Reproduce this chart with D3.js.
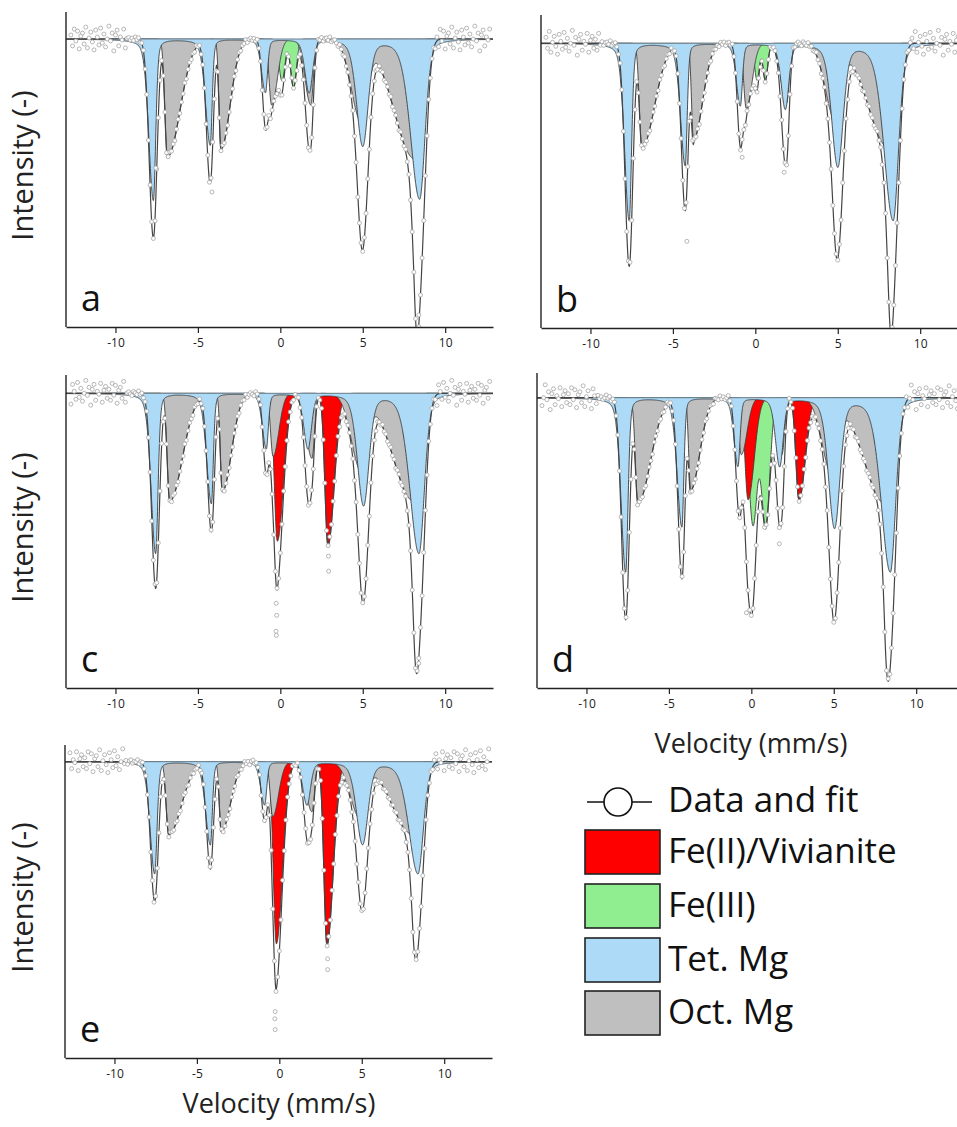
<!DOCTYPE html>
<html><head><meta charset="utf-8">
<script src="https://cdn.jsdelivr.net/npm/d3@7"></script>
<style>
body{margin:0;background:#fff;}
svg{display:block;font-family:"Open Sans",sans-serif;}
</style>
</head><body>
<svg id="chart" width="957" height="1127"></svg>
<script>
// ---------------- DATA ----------------
const panelIds = ["a", "b", "c", "d", "e"];
const velocityTicks = [-10, -5, 0, 5, 10];
const velocityDomain = [-13, 12.9];

// line half widths (mm/s) on the left / right side of each of the six sextet lines
const tetWL = [0.33, 0.34, 0.28, 0.30, 0.44, 0.65];
const tetWR = [0.17, 0.14, 0.15, 0.25, 0.39, 0.39];
const octWL = [0.18, 0.14, 0.18, 0.41, 0.70, 1.45];
const octWR = [0.90, 0.65, 0.41, 0.18, 0.45, 0.24];
const fitWL = [0.30, 0.28, 0.22, 0.25, 0.35, 0.35];
const fitWR = [0.26, 0.22, 0.20, 0.25, 0.40, 0.40];

// Tet. Mg sextet: line positions (mm/s) and depths (% absorption)
const tetPos = {
  a: [-7.70, -4.25, -0.90, 1.75, 5.00, 8.45],
  b: [-7.65, -4.25, -0.91, 1.82, 5.00, 8.36],
  c: [-7.56, -4.18, -0.85, 1.68, 5.05, 8.41],
  d: [-7.62, -4.21, -0.81, 1.72, 5.05, 8.43],
  e: [-7.56, -4.18, -0.89, 1.68, 5.05, 8.41]
};
const tetDepth = {
  a: [5.37, 3.53, 1.77, 1.77, 3.53, 5.33],
  b: [5.90, 4.07, 2.07, 2.17, 4.07, 5.90],
  c: [5.33, 3.67, 1.83, 1.83, 3.70, 5.33],
  d: [5.80, 4.30, 2.27, 2.27, 4.30, 5.80],
  e: [3.73, 2.77, 1.43, 1.43, 2.73, 3.73]
};
// Oct. Mg sextet
const octPos = {
  a: [-6.85, -3.60, -0.53, 1.85, 4.90, 8.15],
  b: [-6.88, -3.75, -0.55, 1.90, 4.85, 8.10],
  c: [-6.71, -3.52, -0.44, 1.92, 4.90, 8.10],
  d: [-6.88, -3.68, -0.61, 1.86, 4.90, 8.10],
  e: [-6.71, -3.52, -0.40, 1.98, 4.90, 8.10]
};
const octDepth = {
  a: [3.93, 3.67, 2.20, 2.20, 2.67, 4.00],
  b: [3.47, 3.20, 2.17, 2.00, 2.50, 3.50],
  c: [3.60, 3.27, 2.10, 2.17, 2.50, 3.60],
  d: [3.50, 3.07, 1.90, 1.90, 2.50, 3.53],
  e: [2.43, 2.33, 1.83, 1.67, 1.83, 2.43]
};
// Fe(II)/Vivianite doublet
const fe2Pos = { c: [-0.18, 2.89], d: [-0.20, 2.89], e: [-0.18, 2.89] };
const fe2Depth = { c: [4.93, 5.07], d: [3.40, 3.40], e: [6.07, 6.10] };
const fe2WL = 0.22, fe2WR = 0.44;
// Fe(III) doublet
const fe3Pos = { a: [0.10, 0.80], b: [0.10, 0.61], d: [0.10, 0.87] };
const fe3Depth = { a: [1.40, 1.60], b: [1.23, 1.23], d: [4.23, 4.23] };
const fe3W = { a: 0.21, b: 0.17, d: 0.30 };
// fitted envelope: absorption at the Tet. positions on top of the Oct. and doublet subspectra
const fitDepth = {
  a: [6.63, 4.80, 2.90, 1.60, 4.30, 7.73],
  b: [7.43, 5.57, 3.33, 2.13, 4.73, 7.53],
  c: [6.50, 4.60, 2.67, 1.90, 4.50, 7.60],
  d: [7.40, 6.03, 2.83, 2.57, 4.97, 8.00],
  e: [4.67, 3.57, 2.00, 1.50, 3.17, 5.47]
};

// measured channels and their small residuals around the fit (in units of the local noise)
const channelStart = -12.7, channelStep = 0.1, channelCount = 255;
const scatter = [0.4, -0.7, 1.0, -0.2, 0.8, -1.0, 0.3, 0.6, -0.5, 1.2, -0.9, 0.1, 0.7, -0.3, -1.1,
  0.9, 0.2, -0.6, 1.1, -0.4, 0.5, -0.8, 0.0, 1.3, -0.2, 0.6, -1.2, 0.4, 0.9, -0.7, 0.2, -0.1,
  1.0, -0.9, 0.3, 0.7, -0.5];
// isolated outlying data points [velocity, % absorption]
const outliers = {
  a: [[-7.55, 4.30], [-4.15, 5.10], [8.40, 9.20]],
  b: [[-4.15, 6.60], [1.75, 4.30], [-0.80, 3.80]],
  c: [[-0.25, 7.00], [-0.22, 7.40], [-0.26, 7.93], [-0.24, 8.07], [2.92, 5.43], [2.93, 5.93], [8.40, 9.00]],
  d: [[-0.30, 7.17], [1.70, 4.87]],
  e: [[-0.25, 8.33], [-0.27, 8.57], [-0.25, 8.93], [2.93, 6.57], [2.93, 6.93]]
};

const legendLabels = ["Fe(II)/Vivianite", "Fe(III)", "Tet. Mg", "Oct. Mg"];
const colors = { fe2: "#ff0000", fe3: "#90ee90", tet: "#acdaf7", oct: "#bfbfbf" };

// ---------------- LAYOUT ----------------
const layout = {
  a: { x0: 66, y0: 12, y1: 327, base: 39, yLabel: true },
  b: { x0: 541, y0: 15, y1: 328, base: 43.3 },
  c: { x0: 66, y0: 375, y1: 688, base: 393.3, yLabel: true },
  d: { x0: 537, y0: 373, y1: 688, base: 397.7, xLabel: true },
  e: { x0: 65, y0: 745, y1: 1058, base: 761.7, yLabel: true, xLabel: true }
};
const plotW = 427, pxPerPct = 30;

const svg = d3.select("#chart");
svg.append("rect").attr("width", 957).attr("height", 1127).attr("fill", "#fff");

// asymmetric pseudo-Voigt line shape
function lineShape(v, l) {
  const u = (v - l.c) / (v < l.c ? l.wL : l.wR);
  return l.d * (l.eta / (1 + u * u) + (1 - l.eta) * Math.exp(-Math.LN2 * u * u));
}
const grid = d3.range(velocityDomain[0], velocityDomain[1] + 0.001, 0.01);
const absorb = (lines, v) => d3.sum(lines, l => lineShape(v, l));

panelIds.forEach((id, pi) => {
  const L = layout[id];
  const x = d3.scaleLinear().domain(velocityDomain).range([L.x0, L.x0 + plotW]);
  const y = d3.scaleLinear()
    .domain([100 - (L.y1 - L.base) / pxPerPct, 100 + (L.base - L.y0) / pxPerPct])
    .range([L.y1, L.y0]);

  const comps = [];
  if (fe3Pos[id]) comps.push({ key: "fe3", lines: fe3Pos[id].map((c, i) => ({ c, d: fe3Depth[id][i], wL: fe3W[id], wR: fe3W[id], eta: 0 })) });
  if (fe2Pos[id]) comps.push({ key: "fe2", lines: fe2Pos[id].map((c, i) => ({ c, d: fe2Depth[id][i], wL: fe2WL, wR: fe2WR, eta: 0 })) });
  comps.push({ key: "oct", lines: octPos[id].map((c, i) => ({ c, d: octDepth[id][i], wL: octWL[i], wR: octWR[i], eta: 0 })) });
  comps.push({ key: "tet", lines: tetPos[id].map((c, i) => ({ c, d: tetDepth[id][i], wL: tetWL[i], wR: tetWR[i], eta: 0.3 })) });

  const fitLines = comps.filter(c => c.key !== "tet").flatMap(c => c.lines)
    .concat(tetPos[id].map((c, i) => ({ c, d: fitDepth[id][i], wL: fitWL[i], wR: fitWR[i], eta: 0 })));
  const fit = v => 100 - absorb(fitLines, v);

  const g = svg.append("g");
  const clipId = "clip-" + id;
  g.append("clipPath").attr("id", clipId).append("rect")
    .attr("x", L.x0).attr("y", L.y0 - 10).attr("width", plotW).attr("height", L.y1 - L.y0 + 10);
  const plot = g.append("g").attr("clip-path", `url(#${clipId})`);

  comps.forEach(comp => {
    const pts = grid.map(v => [v, 100 - absorb(comp.lines, v)]);
    plot.append("path").datum(pts)
      .attr("d", d3.area().x(p => x(p[0])).y0(y(100)).y1(p => y(p[1])))
      .attr("fill", colors[comp.key]).attr("stroke", "none");
    plot.append("path").datum(pts)
      .attr("d", d3.line().x(p => x(p[0])).y(p => y(p[1])))
      .attr("fill", "none").attr("stroke", "#3a3a3a").attr("stroke-width", 0.9);
  });
  plot.append("line").attr("x1", x(-9.2)).attr("x2", x(9.9)).attr("y1", y(100)).attr("y2", y(100))
    .attr("stroke", "#6b7f8a").attr("stroke-width", 1);

  // total fit
  plot.append("path").datum(grid.map(v => [v, fit(v)]))
    .attr("d", d3.line().x(p => x(p[0])).y(p => y(p[1])))
    .attr("fill", "none").attr("stroke", "#444").attr("stroke-width", 1.2);

  // data points
  const data = d3.range(channelCount).map(k => {
    const v = channelStart + k * channelStep;
    const amp = Math.abs(v) > 9.3 ? 0.33 : 0.07;
    return [v, fit(v) + amp * scatter[(k + pi * 7) % scatter.length]];
  }).concat(outliers[id].map(o => [o[0], 100 - o[1]]));
  plot.append("g").selectAll("circle").data(data).join("circle")
    .attr("cx", p => x(p[0])).attr("cy", p => y(p[1])).attr("r", 2)
    .attr("fill", "#fff").attr("stroke", "#a4a4a4").attr("stroke-width", 0.8);

  // axes
  const ax = g.append("g").attr("transform", `translate(0,${L.y1})`)
    .call(d3.axisBottom(x).tickValues(velocityTicks).tickSize(6).tickSizeOuter(0).tickFormat(d => String(d)));
  ax.select(".domain").attr("stroke", "#222").attr("stroke-width", 1.4);
  ax.selectAll(".tick line").attr("stroke", "#222").attr("stroke-width", 1.2);
  ax.selectAll(".tick text").attr("font-family", "Open Sans").attr("font-size", 12).attr("fill", "#222").attr("dy", "0.9em");
  g.append("line").attr("x1", L.x0).attr("x2", L.x0).attr("y1", L.y0).attr("y2", L.y1)
    .attr("stroke", "#222").attr("stroke-width", 1.4);

  g.append("text").attr("x", L.x0 + 15).attr("y", L.y1 - 16).attr("font-size", 36).attr("fill", "#111").text(id);

  if (L.yLabel) {
    g.append("text").attr("transform", `translate(33,${(L.y0 + L.y1) / 2 - 4}) rotate(-90)`)
      .attr("text-anchor", "middle").attr("font-size", 29).attr("fill", "#222").text("Intensity (-)");
  }
  if (L.xLabel) {
    g.append("text").attr("x", L.x0 + 214).attr("y", id === "d" ? 753 : 1113)
      .attr("text-anchor", "middle").attr("font-size", 27).attr("fill", "#222").text("Velocity (mm/s)");
  }
});

// legend
const lg = svg.append("g");
lg.append("line").attr("x1", 587).attr("x2", 652).attr("y1", 802).attr("y2", 802).attr("stroke", "#111").attr("stroke-width", 1.4);
lg.append("circle").attr("cx", 618).attr("cy", 802).attr("r", 14).attr("fill", "#fff").attr("stroke", "#111").attr("stroke-width", 1.6);
lg.append("text").attr("x", 668).attr("y", 812).attr("font-size", 35).attr("fill", "#111").text("Data and fit");
const legendKeys = ["fe2", "fe3", "tet", "oct"];
const legendTop = [830, 884, 938, 991];
legendKeys.forEach((k, i) => {
  lg.append("rect").attr("x", 585).attr("y", legendTop[i]).attr("width", 75).attr("height", 44)
    .attr("fill", colors[k]).attr("stroke", "#222").attr("stroke-width", 1.6);
  lg.append("text").attr("x", 668).attr("y", legendTop[i] + 33).attr("font-size", 35).attr("fill", "#111").text(legendLabels[i]);
});
</script>
</body></html>
